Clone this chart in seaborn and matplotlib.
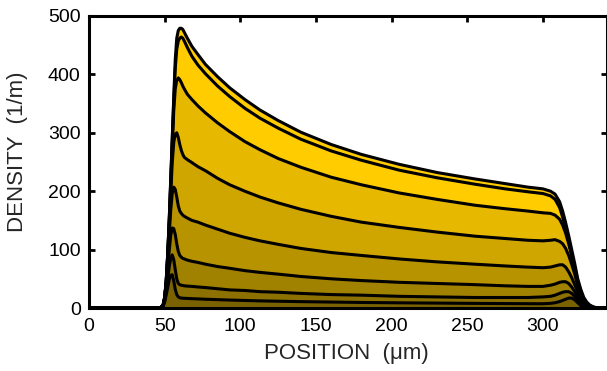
import matplotlib
matplotlib.use("Agg")
import matplotlib.pyplot as plt
import numpy as np
import pandas as pd
import seaborn as sns

# Sample positions along the channel (um)
position = [0, 47, 49, 50, 51, 52, 53, 54, 55, 56,
            57, 58, 59, 60, 61, 62, 63, 65, 68, 72,
            77, 85, 93, 103, 113, 125, 140, 160, 180, 205,
            230, 255, 275, 290, 300, 305, 308, 311, 313, 315,
            317, 319, 321, 323, 325, 327, 329, 331, 334, 342]

# Density profiles (1/m), from the largest to the smallest
profile_1 = [0, 0, 5, 18, 45, 92, 150, 220, 290, 360,
             425, 462, 475, 479, 479, 477, 472, 462, 448, 434,
             417, 396, 377, 357, 339, 321, 301, 280, 263, 246,
             232, 221, 213, 207, 204, 200, 195, 182, 166, 146,
             124, 100, 76, 50, 32, 18, 10, 5, 1, 0]
profile_2 = [0, 0, 5, 18, 45, 91, 148, 217, 286, 353,
             410, 443, 457, 462, 464, 462, 457, 446, 431, 416,
             401, 380, 362, 342, 325, 308, 289, 269, 253, 236,
             223, 212, 204, 199, 196, 192, 186, 172, 156, 136,
             114, 91, 68, 44, 27, 15, 8, 4, 1, 0]
profile_3 = [0, 0, 5, 18, 44, 89, 145, 210, 275, 337,
             375, 390, 394, 391, 386, 380, 375, 366, 357, 346,
             334, 317, 302, 285, 271, 256, 241, 224, 211, 197,
             186, 176, 170, 166, 163, 162, 159, 152, 142, 128,
             110, 90, 68, 45, 28, 15, 8, 3, 1, 0]
profile_4 = [0, 0, 5, 17, 43, 86, 138, 195, 248, 283,
             298, 300, 292, 280, 270, 263, 258, 254, 249, 242,
             235, 222, 211, 200, 190, 180, 169, 157, 147, 138,
             130, 123, 119, 116, 115, 116, 117, 114, 110, 102,
             90, 75, 58, 38, 23, 12, 6, 2, 0, 0]
profile_5 = [0, 0, 5, 17, 41, 80, 125, 167, 196, 207,
             203, 190, 175, 166, 162, 159, 157, 154, 150, 147,
             142, 135, 128, 121, 115, 109, 102, 95, 90, 84,
             79, 75, 72, 70, 69, 70, 72, 74, 74, 70,
             62, 52, 40, 27, 15, 7, 3, 1, 0, 0]
profile_6 = [0, 0, 4, 15, 36, 66, 98, 124, 137, 136,
             126, 110, 97, 90, 87, 85, 84, 82, 80, 78,
             75, 71, 68, 64, 61, 58, 54, 50, 47, 44,
             42, 40, 38, 37, 37, 39, 41, 44, 45, 45,
             42, 36, 28, 18, 10, 4, 1, 0, 0, 0]
profile_7 = [0, 0, 4, 13, 29, 50, 70, 85, 91, 83,
             66, 50, 42, 40, 39, 38.5, 38, 37.5, 37, 36,
             35, 33, 31, 30, 28, 27, 25, 23, 22, 20,
             19, 18, 18, 18, 19, 20, 22, 25, 27, 28,
             28, 25, 20, 13, 6, 2, 0, 0, 0, 0]
profile_8 = [0, 0, 3, 10, 22, 35, 48, 56, 57, 47,
             32, 23, 19, 17.5, 17, 16.8, 16.6, 16.4, 16, 15.6,
             15, 14.3, 13.6, 12.9, 12.2, 11.6, 10.9, 10.2, 9.5, 8.9,
             8.4, 7.9, 7.6, 7.4, 7.3, 8, 9, 11, 13, 15,
             17, 17, 14, 9, 4, 1, 0, 0, 0, 0]

profiles = [profile_1, profile_2, profile_3, profile_4,
            profile_5, profile_6, profile_7, profile_8]
shades = [1.0, 1.0, 0.9, 0.81, 0.72, 0.63, 0.55, 0.48]

x_ticks = [0, 50, 100, 150, 200, 250, 300]
y_ticks = [0, 100, 200, 300, 400, 500]

sns.set_style("ticks")
plt.rcParams["font.family"] = ["Liberation Sans", "DejaVu Sans"]

fig = plt.figure(figsize=(6.07, 3.71), dpi=100)
ax = fig.add_axes([0.1466, 0.1698, 0.8526, 0.7871])

# Stacked yellow fills, darkest on the bottom
for ys, s in zip(profiles, shades):
    ax.fill_between(position, ys, 0, color=(s * 1.0, s * 0.8, 0.0),
                    linewidth=0, zorder=1)

frames = [pd.DataFrame({"position": position, "density": ys, "profile": i})
          for i, ys in enumerate(profiles)]
df = pd.concat(frames, ignore_index=True)

sns.lineplot(data=df, x="position", y="density", hue="profile",
             palette=["black"] * len(profiles), estimator=None, sort=False,
             legend=False, linewidth=2.2, solid_joinstyle="round",
             ax=ax, zorder=3)

ax.set_xlim(0, 342)
ax.set_ylim(0, 500)
ax.set_xticks(x_ticks)
ax.set_yticks(y_ticks)

for sp in ax.spines.values():
    sp.set_visible(True)
    sp.set_linewidth(2.2)
    sp.set_color("black")
    sp.set_zorder(5)

ax.tick_params(direction="in", length=4, width=2, top=True, right=True,
               labelsize=14, colors="black")
ax.tick_params(axis="x", pad=7)
ax.tick_params(axis="y", pad=6)

ax.set_xlabel("POSITION  (μm)", fontsize=16)
ax.set_ylabel("DENSITY  (1/m)", fontsize=16)
ax.xaxis.set_label_coords(0.497, -0.12)
ax.yaxis.set_label_coords(-0.118, 0.534)

fig.savefig("out.png", dpi=100)
